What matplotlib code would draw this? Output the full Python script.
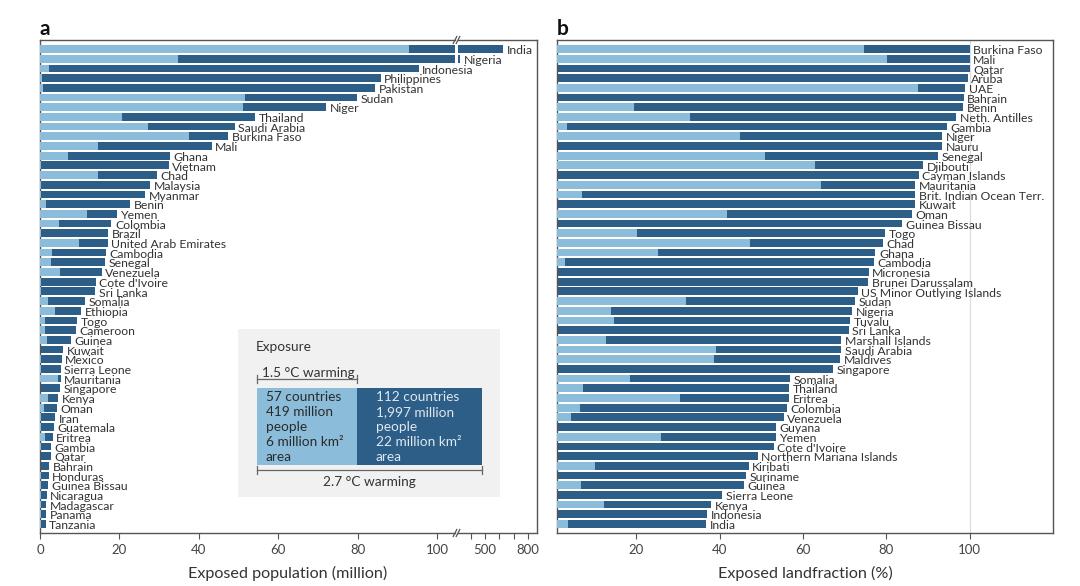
import matplotlib
matplotlib.use("Agg")
import matplotlib.pyplot as plt
from matplotlib.lines import Line2D
from matplotlib.patches import Rectangle

plt.rcParams['font.family'] = ['Lato', 'DejaVu Sans']

# panel a: exposed population (million), 1.5 C and 2.7 C warming
pop_countries = ["India", "Nigeria", "Indonesia", "Philippines", "Pakistan", "Sudan", "Niger",
                 "Thailand", "Saudi Arabia", "Burkina Faso", "Mali", "Ghana", "Vietnam", "Chad",
                 "Malaysia", "Myanmar", "Benin", "Yemen", "Colombia", "Brazil",
                 "United Arab Emirates", "Cambodia", "Senegal", "Venezuela", "Cote d'Ivoire",
                 "Sri Lanka", "Somalia", "Ethiopia", "Togo", "Cameroon", "Guinea", "Kuwait",
                 "Mexico", "Sierra Leone", "Mauritania", "Singapore", "Kenya", "Oman", "Iran",
                 "Guatemala", "Eritrea", "Gambia", "Qatar", "Bahrain", "Honduras",
                 "Guinea Bissau", "Nicaragua", "Madagascar", "Panama", "Tanzania"]
pop_15 = [93, 34.7, 2.3, 0.4, 0.8, 51.6, 51, 20.6, 27.3, 37.4, 14.5, 7, 0.3, 14.5, 0.2,
          0.2, 1.4, 11.8, 4.8, 0.2, 9.9, 3.1, 2.7, 5, 0.2, 0.2, 2.1, 3.8, 1.3, 1.2,
          1.7, 0, 0.2, 0.3, 4.6, 0, 2.1, 1.1, 0.2, 0.2, 1.3, 0.2, 0, 0, 0.2,
          0.3, 0.2, 0.2, 0.2, 0.2]
pop_27 = [625, 325, 95.4, 85.8, 84.4, 79.8, 72, 54.2, 49, 47.4, 43.2, 32.7, 32.4, 29.4, 27.7,
          26.5, 22.7, 19.5, 18, 17.2, 17, 16.6, 16.4, 15.5, 14, 13.9, 11.3, 10.3, 9.3, 9,
          7.7, 5.9, 5.5, 5.2, 5.2, 5, 4.6, 4.2, 3.8, 3.4, 3.2, 2.8, 2.7, 2.3, 2.2,
          2.1, 1.7, 1.6, 1.5, 1.4]

# panel b: exposed land fraction (%)
land_countries = ["Burkina Faso", "Mali", "Qatar", "Aruba", "UAE", "Bahrain", "Benin",
                  "Neth. Antilles", "Gambia", "Niger", "Nauru", "Senegal", "Djibouti",
                  "Cayman Islands", "Mauritania", "Brit. Indian Ocean Terr.", "Kuwait", "Oman",
                  "Guinea Bissau", "Togo", "Chad", "Ghana", "Cambodia", "Micronesia",
                  "Brunei Darussalam", "US Minor Outlying Islands", "Sudan", "Nigeria",
                  "Tuvalu", "Sri Lanka", "Marshall Islands", "Saudi Arabia", "Maldives",
                  "Singapore", "Somalia", "Thailand", "Eritrea", "Colombia", "Venezuela",
                  "Guyana", "Yemen", "Cote d'Ivoire", "Northern Mariana Islands", "Kiribati",
                  "Suriname", "Guinea", "Sierra Leone", "Kenya", "Indonesia", "India"]
land_15 = [74.6, 80.1, 0, 0, 87.6, 0, 19.5, 32.8, 3.4, 45, 0, 51, 63, 0, 64.4,
           7, 0, 41.8, 0, 20.3, 47.2, 25.2, 3, 0, 0, 0, 32, 13.9, 14.6, 0,
           12.8, 39.2, 38.6, 0, 18.6, 7.2, 30.6, 6.4, 4.3, 0, 25.9, 0, 0, 10, 0,
           6.8, 0, 12.3, 0, 3.7]
land_27 = [100, 100, 100, 99.6, 99, 98.6, 98.4, 96.8, 94.6, 93.4, 93.4, 92.4, 88.9, 87.8, 87,
           87, 86.9, 86.2, 83.8, 79.8, 79.3, 77.4, 77, 75.8, 75.7, 73.2, 72.5, 71.8, 71.3, 71,
           69.2, 69.2, 69, 67.3, 57, 56.7, 56.7, 56.2, 55.4, 53.6, 53.6, 53, 49.2, 47, 46.4,
           45.8, 40.6, 38, 37.1, 36.8]

LIGHT = '#8bbdda'
DARK = '#2c5e87'
TXT = '#333333'
SPINE = '#555555'
W, H = 1080, 586


def fx(px):
    return px / W


def fy(py):
    return 1 - py / H


def box(x0, y0, x1, y1):
    return [fx(x0), fy(y1), fx(x1) - fx(x0), fy(y0) - fy(y1)]


def style_axis(ax):
    for s in ax.spines.values():
        s.set_color(SPINE)
        s.set_linewidth(1.0)
    ax.set_yticks([])
    ax.tick_params(axis='x', direction='out', length=4, width=0.8, color=SPINE,
                   labelsize=9.5, labelcolor='#444444', pad=4)
    ax.set_ylim(len(pop_countries) - 0.07, -0.93)


def draw_bars(ax, light, total):
    ys = range(len(total))
    ax.barh(ys, total, height=0.8, color=DARK, linewidth=0, zorder=2)
    ax.barh(ys, light, height=0.8, color=LIGHT, linewidth=0, zorder=3)


def draw_labels(ax, names, total, idx):
    for i in idx:
        ax.annotate(names[i], (total[i], i), xytext=(2.5, -1.2), textcoords='offset points',
                    ha='left', va='center', fontsize=8.8, color=TXT, zorder=5)


fig = plt.figure(figsize=(W / 100, H / 100), dpi=100)

# ---- panel a (broken x axis)
ax1 = fig.add_axes(box(40, 40, 455, 533))
ax2 = fig.add_axes(box(458, 40, 537, 533))
ax2.set_facecolor('none')
for ax in (ax1, ax2):
    style_axis(ax)
    draw_bars(ax, pop_15, pop_27)
ax1.set_xlim(0, 104.5)
ax1.set_xticks([0, 20, 40, 60, 80, 100])
ax2.set_xlim(310, 863)
ax2.set_xticks([400, 500, 600, 700, 800])
ax2.set_xticklabels(['', '500', '', '', '800'])
ax1.spines['right'].set_visible(False)
ax2.spines['left'].set_visible(False)

draw_labels(ax1, pop_countries, pop_27, range(2, len(pop_countries)))
draw_labels(ax2, pop_countries, pop_27, [0, 1])

# break marks
for py in (40, 533):
    for dx in (-1.5, 1.5):
        cx = 456.5 + dx
        fig.add_artist(Line2D([fx(cx - 1.8), fx(cx + 1.8)], [fy(py + 3.5), fy(py - 3.5)],
                              color=SPINE, lw=0.9))

fig.text(fx(288), fy(573), 'Exposed population (million)', ha='center', va='center',
         fontsize=11.6, color=TXT)
fig.text(fx(40), fy(29), 'a', ha='left', va='center', fontsize=15, fontweight='bold',
         color='#111111')

# legend box
fig.add_artist(Rectangle((fx(238), fy(497)), fx(500) - fx(238), fy(329) - fy(497),
                         transform=fig.transFigure, facecolor='#f1f1f1', edgecolor='none'))
fig.add_artist(Rectangle((fx(257), fy(465)), fx(357) - fx(257), fy(388) - fy(465),
                         transform=fig.transFigure, facecolor=LIGHT, edgecolor='none'))
fig.add_artist(Rectangle((fx(357), fy(465)), fx(482) - fx(357), fy(388) - fy(465),
                         transform=fig.transFigure, facecolor=DARK, edgecolor='none'))
fig.text(fx(256), fy(347), 'Exposure', ha='left', va='center', fontsize=9.8, color=TXT)

for x0, x1, py in ((257, 357, 379), (257, 482, 470)):
    fig.add_artist(Line2D([fx(x0), fx(x1)], [fy(py), fy(py)], color='#666666', lw=0.9))
    for xe in (x0, x1):
        fig.add_artist(Line2D([fx(xe), fx(xe)], [fy(py - 4), fy(py + 4)], color='#666666', lw=0.9))
fig.text(fx(308), fy(373), '1.5 °C warming', ha='center', va='center', fontsize=9.8, color=TXT)
fig.text(fx(369), fy(482), '2.7 °C warming', ha='center', va='center', fontsize=9.8, color=TXT)

left_lines = ['57 countries', '419 million', 'people', '6 million km²', 'area']
right_lines = ['112 countries', '1,997 million', 'people', '22 million km²', 'area']
for k in range(5):
    fig.text(fx(266), fy(397 + 15 * k), left_lines[k], ha='left', va='center',
             fontsize=9.8, color='#2a2a2a')
    fig.text(fx(376), fy(397 + 15 * k), right_lines[k], ha='left', va='center',
             fontsize=9.8, color='#dfe7ef')

# ---- panel b
ax3 = fig.add_axes(box(557, 40, 1053, 533))
style_axis(ax3)
ax3.axvline(100, color='#dddddd', lw=0.9, zorder=0)
draw_bars(ax3, land_15, land_27)
ax3.set_xlim(1, 120)
ax3.set_xticks([20, 40, 60, 80, 100])
draw_labels(ax3, land_countries, land_27, range(len(land_countries)))

fig.text(fx(805), fy(573), 'Exposed landfraction (%)', ha='center', va='center',
         fontsize=11.6, color=TXT)
fig.text(fx(557), fy(29), 'b', ha='left', va='center', fontsize=15, fontweight='bold',
         color='#111111')

fig.savefig('out.png', dpi=100)
plt.close()
